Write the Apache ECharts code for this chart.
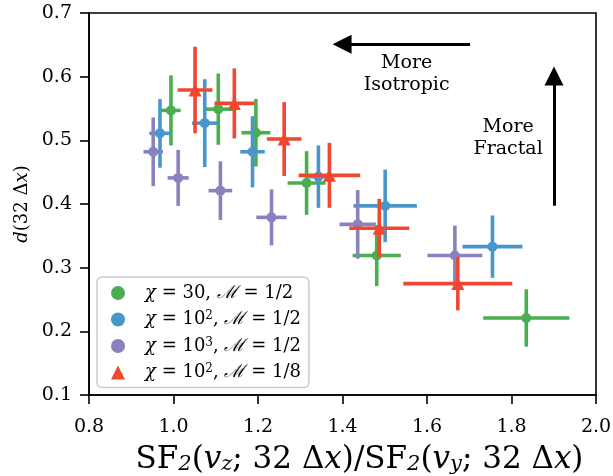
<!DOCTYPE html>
<html>
<head>
<meta charset="utf-8">
<script src="https://cdn.jsdelivr.net/npm/echarts@6.0.0/dist/echarts.min.js"></script>
<style>
html, body { margin: 0; padding: 0; background: #fff; }
#main { width: 613px; height: 476px; }
</style>
</head>
<body>
<div id="main"></div>
<script>
// chi = 30, M = 1/2
const chi30X = [0.994, 1.106, 1.195, 1.315, 1.481, 1.835]
const chi30Y = [0.547, 0.549, 0.512, 0.433, 0.319, 0.221]
const chi30XErr = [0.023, 0.035, 0.034, 0.045, 0.057, 0.102]
const chi30YErr = [0.055, 0.056, 0.053, 0.050, 0.048, 0.045]

// chi = 10^2, M = 1/2
const chi100X = [0.968, 1.074, 1.187, 1.343, 1.501, 1.755]
const chi100Y = [0.511, 0.527, 0.482, 0.443, 0.397, 0.333]
const chi100XErr = [0.025, 0.030, 0.029, 0.024, 0.075, 0.071]
const chi100YErr = [0.054, 0.069, 0.056, 0.049, 0.057, 0.049]

// chi = 10^3, M = 1/2
const chi1000X = [0.952, 1.011, 1.111, 1.232, 1.436, 1.666]
const chi1000Y = [0.482, 0.441, 0.421, 0.379, 0.368, 0.319]
const chi1000XErr = [0.023, 0.025, 0.028, 0.036, 0.043, 0.065]
const chi1000YErr = [0.054, 0.044, 0.046, 0.044, 0.054, 0.047]

// chi = 10^2, M = 1/8
const chi100m8X = [1.051, 1.144, 1.262, 1.369, 1.487, 1.673]
const chi100m8Y = [0.579, 0.558, 0.502, 0.445, 0.362, 0.275]
const chi100m8XErr = [0.041, 0.047, 0.041, 0.073, 0.071, 0.129]
const chi100m8YErr = [0.068, 0.055, 0.058, 0.051, 0.046, 0.042]

const seriesNames = ['chi30', 'chi100', 'chi1000', 'chi100m8']
const legendText = {
	chi30: '{i|χ} = 30, {c|ℳ} = 1/2',
	chi100: '{i|χ} = 10{sup|2}, {c|ℳ} = 1/2',
	chi1000: '{i|χ} = 10{sup|3}, {c|ℳ} = 1/2',
	chi100m8: '{i|χ} = 10{sup|2}, {c|ℳ} = 1/8'
}

const serif = '"DejaVu Serif", "Liberation Serif", serif'
const colors = ['#4aae50', '#4896cc', '#8882bf', '#f04730']
const symbols = ['circle', 'circle', 'circle', 'triangle']

const sets = [
	[chi30X, chi30Y, chi30XErr, chi30YErr],
	[chi100X, chi100Y, chi100XErr, chi100YErr],
	[chi1000X, chi1000Y, chi1000XErr, chi1000YErr],
	[chi100m8X, chi100m8Y, chi100m8XErr, chi100m8YErr]
]

//误差线
const makeErrBars = (idx) => {
	const [xs, ys, xe, ye] = sets[idx]
	const color = colors[idx]
	return {
		type: 'custom',
		name: seriesNames[idx] + '_err',
		z: 10 + idx * 2,
		silent: true,
		animation: false,
		encode: { x: 0, y: 1 },
		data: xs.map((x, i) => [x, ys[i], xe[i], ye[i]]),
		renderItem: (params, api) => {
			const x = api.value(0), y = api.value(1), ex = api.value(2), ey = api.value(3)
			const l = api.coord([x - ex, y]), r = api.coord([x + ex, y])
			const t = api.coord([x, y + ey]), b = api.coord([x, y - ey])
			return {
				type: 'group',
				children: [
					{ type: 'line', shape: { x1: l[0], y1: l[1], x2: r[0], y2: r[1] }, style: { stroke: color, lineWidth: 3.6 } },
					{ type: 'line', shape: { x1: t[0], y1: t[1], x2: b[0], y2: b[1] }, style: { stroke: color, lineWidth: 3.6 } }
				]
			}
		}
	}
}

const makeMarkers = (idx) => {
	const [xs, ys] = sets[idx]
	return {
		type: 'scatter',
		name: seriesNames[idx],
		z: 11 + idx * 2,
		symbol: symbols[idx],
		symbolSize: idx === 3 ? 13 : 10,
		itemStyle: { color: colors[idx], opacity: 1 },
		animation: false,
		silent: true,
		data: xs.map((x, i) => [x, ys[i]])
	}
}

const series = []
for (let i = 0; i < 4; i++) {
	series.push(makeErrBars(i))
	series.push(makeMarkers(i))
}

//箭头和文字
series.push({
	type: 'scatter',
	name: 'annot',
	data: [],
	z: 30,
	silent: true,
	animation: false,
	markLine: {
		silent: true,
		animation: false,
		symbol: ['none', 'triangle'],
		symbolSize: [19, 19],
		lineStyle: { color: '#000', width: 3, type: 'solid' },
		itemStyle: { color: '#000' },
		label: { show: false },
		data: [
			[{ coord: [1.702, 0.651] }, { coord: [1.399, 0.651] }],
			[{ coord: [1.9006, 0.3973] }, { coord: [1.9006, 0.601] }]
		]
	},
	markPoint: {
		silent: true,
		animation: false,
		symbol: 'circle',
		symbolSize: 1,
		itemStyle: { color: 'rgba(0,0,0,0)' },
		label: { show: true, position: 'inside', fontFamily: serif, fontSize: 19, color: '#000', lineHeight: 22 },
		data: [
			{ coord: [1.552, 0.604], label: { formatter: 'More\nIsotropic' } },
			{ coord: [1.792, 0.504], label: { formatter: 'More\nFractal' } }
		]
	}
})

const option = {
	animation: false,
	backgroundColor: '#fff',
	grid: {
		show: true,
		left: 89, right: 17, top: 13, bottom: 81,
		outerBoundsMode: 'none',
		containLabel: false,
		borderColor: '#000', borderWidth: 1.6,
		backgroundColor: 'rgba(0,0,0,0)'
	},
	xAxis: {
		type: 'value',
		min: 0.8, max: 2.0, interval: 0.2,
		axisLine: { show: true, onZero: false, lineStyle: { color: '#000', width: 1.6 } },
		axisTick: { show: true, length: 9, lineStyle: { color: '#000', width: 1.6 } },
		splitLine: { show: false },
		axisLabel: { formatter: v => v.toFixed(1), fontFamily: serif, fontSize: 19, color: '#000', margin: 23 },
		name: '{n|SF}{s|2}{n|(}{i|v}{s|z}{n|; 32 Δ}{i|x}{n|)/SF}{s|2}{n|(}{i|v}{s|y}{n|; 32 Δ}{i|x}{n|)}',
		nameLocation: 'middle',
		nameGap: 49,
		nameTextStyle: {
			padding: [0, 0, 0, 34],
			rich: {
				n: { fontFamily: serif, fontSize: 31, color: '#000' },
				i: { fontFamily: serif, fontSize: 31, fontStyle: 'italic', color: '#000' },
				s: { fontFamily: serif, fontSize: 21, fontStyle: 'italic', color: '#000', verticalAlign: 'bottom', padding: [9, 0, 0, 0] }
			}
		}
	},
	yAxis: {
		type: 'value',
		min: 0.1, max: 0.7, interval: 0.1,
		axisLine: { show: true, onZero: false, lineStyle: { color: '#000', width: 1.6 } },
		axisTick: { show: true, length: 9, lineStyle: { color: '#000', width: 1.6 } },
		splitLine: { show: false },
		axisLabel: { formatter: v => v.toFixed(1), fontFamily: serif, fontSize: 19, color: '#000', margin: 17 },
		name: '{i|d}{n|(32 Δ}{i|x}{n|)}',
		nameLocation: 'middle',
		nameGap: 58,
		nameRotate: 90,
		nameTextStyle: {
			rich: {
				n: { fontFamily: serif, fontSize: 18, color: '#000' },
				i: { fontFamily: serif, fontSize: 18, fontStyle: 'italic', color: '#000' }
			}
		}
	},
	legend: {
		orient: 'vertical',
		left: 97, top: 277,
		padding: [7, 8, 6, 14],
		itemGap: 8,
		itemWidth: 14, itemHeight: 14,
		borderColor: '#cccccc', borderWidth: 1.5, borderRadius: 5,
		backgroundColor: 'rgba(255,255,255,0.8)',
		data: seriesNames.map((n, i) => ({ name: n, icon: symbols[i] })),
		formatter: n => legendText[n],
		textStyle: {
			fontFamily: serif, fontSize: 18, color: '#000',
			padding: [0, 0, 0, 15],
			rich: {
				i: { fontFamily: serif, fontSize: 18, fontStyle: 'italic', color: '#000', lineHeight: 19 },
				c: { fontFamily: serif, fontSize: 18, fontStyle: 'italic', color: '#000', lineHeight: 19 },
				sup: { fontFamily: serif, fontSize: 12, color: '#000', verticalAlign: 'top', lineHeight: 12, padding: [0, 0, 6, 0] }
			}
		}
	},
	series: series
}

const myChart = echarts.init(document.getElementById('main'))
myChart.setOption(option)
</script>
</body>
</html>
